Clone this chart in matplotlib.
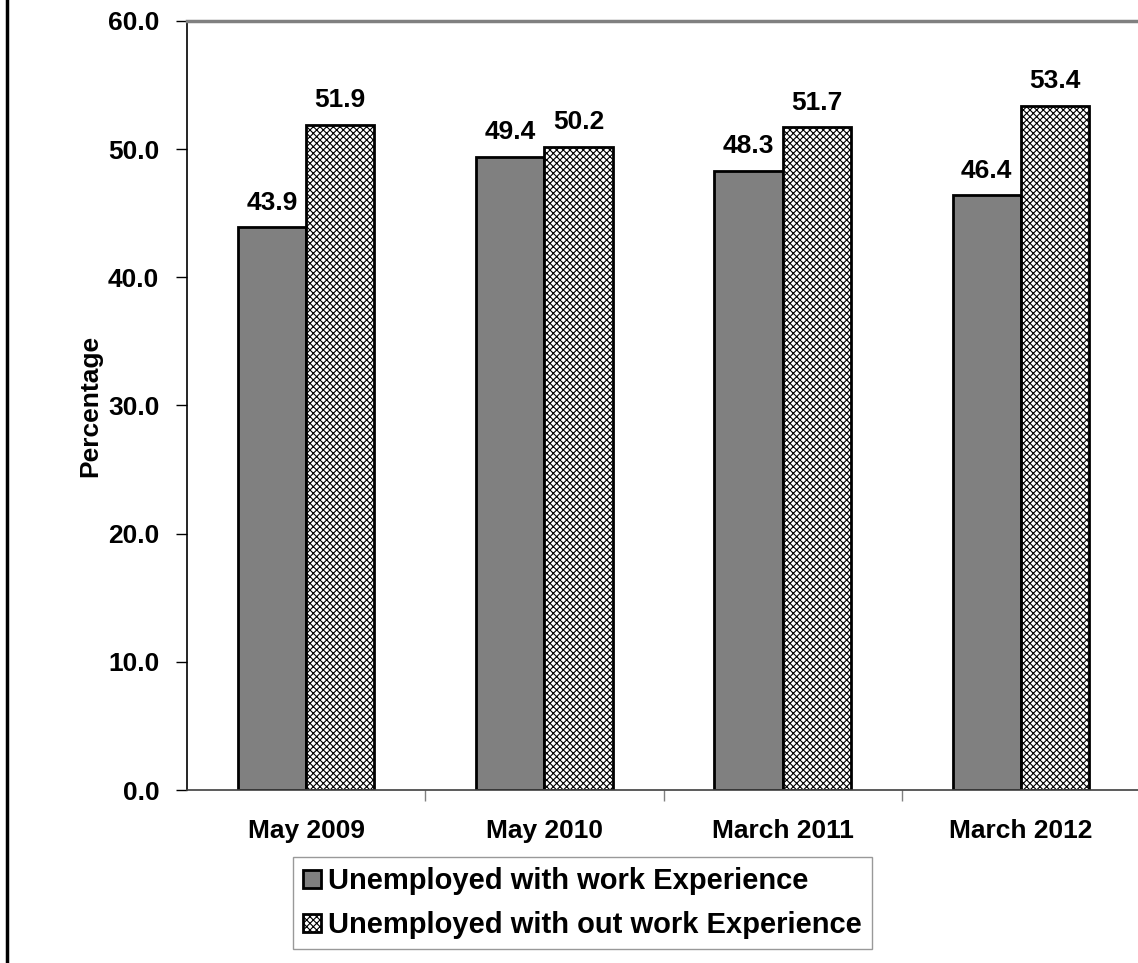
import matplotlib
matplotlib.use("Agg")
import matplotlib.pyplot as plt
from matplotlib.lines import Line2D
import numpy as np

plt.rcParams['font.family'] = ['Liberation Sans', 'DejaVu Sans']
plt.rcParams['font.weight'] = 'bold'
plt.rcParams['hatch.linewidth'] = 0.8

# data
periods = ["May 2009", "May 2010", "March 2011", "March 2012"]
with_exp = [43.9, 49.4, 48.3, 46.4]
without_exp = [51.9, 50.2, 51.7, 53.4]
series_names = ["Unemployed with work Experience",
                "Unemployed with out work Experience"]

fig = plt.figure(figsize=(11.38, 9.63), dpi=100)
ax = fig.add_axes([187 / 1138, 1 - 790 / 963, 953 / 1138, 769 / 963])

x = np.arange(len(periods))
w = 0.286
b1 = ax.bar(x - w / 2, with_exp, w, color='#808080', edgecolor='black',
            linewidth=2, label=series_names[0])
b2 = ax.bar(x + w / 2, without_exp, w, color='white', edgecolor='black',
            linewidth=2, hatch='xxxxx', label=series_names[1])

for bars in (b1, b2):
    for r in bars:
        ax.annotate(f"{r.get_height():.1f}", (r.get_x() + r.get_width() / 2, r.get_height()),
                    xytext=(0, 9), textcoords='offset points', ha='center', va='bottom',
                    fontsize=19, fontweight='bold')

ax.set_xlim(-0.5, len(periods) - 0.5)
ax.set_ylim(0, 60)
ax.set_yticks(np.arange(0, 61, 10))
ax.set_yticklabels([f"{v:.1f}" for v in np.arange(0, 61, 10)], fontsize=19)
ax.set_xticks(x)
ax.set_xticklabels(periods, fontsize=19)
ax.set_xticks(np.arange(0.5, len(periods) - 0.5, 1), minor=True)
ax.tick_params(axis='x', which='major', length=0, pad=21)
ax.tick_params(axis='x', which='minor', length=8, width=1, color='#808080', direction='out')
ax.tick_params(axis='y', length=8, width=1, direction='out', pad=12)
ax.set_ylabel("Percentage", fontsize=19, fontweight='bold', labelpad=4)

ax.spines['right'].set_visible(False)
ax.spines['top'].set_color('#808080')
ax.spines['top'].set_linewidth(2.5)
ax.spines['left'].set_color('black')
ax.spines['left'].set_linewidth(1.2)
ax.spines['bottom'].set_color('#404040')
ax.spines['bottom'].set_linewidth(1.2)

leg = fig.legend(handles=[b1, b2], loc='upper left',
                 bbox_to_anchor=(293 / 1138, 1 - 857 / 963),
                 prop={'weight': 'bold', 'size': 21},
                 handlelength=0.6, handleheight=0.6, handletextpad=0.25,
                 labelspacing=0.55, borderpad=0.35, fancybox=False, borderaxespad=0)
leg.get_frame().set_edgecolor('#808080')
leg.get_frame().set_linewidth(1)

# chart area border on the left
fig.add_artist(Line2D([7 / 1138, 7 / 1138], [0, 1], color='black', linewidth=2.5,
                      transform=fig.transFigure))

fig.savefig("out.png", dpi=100)
